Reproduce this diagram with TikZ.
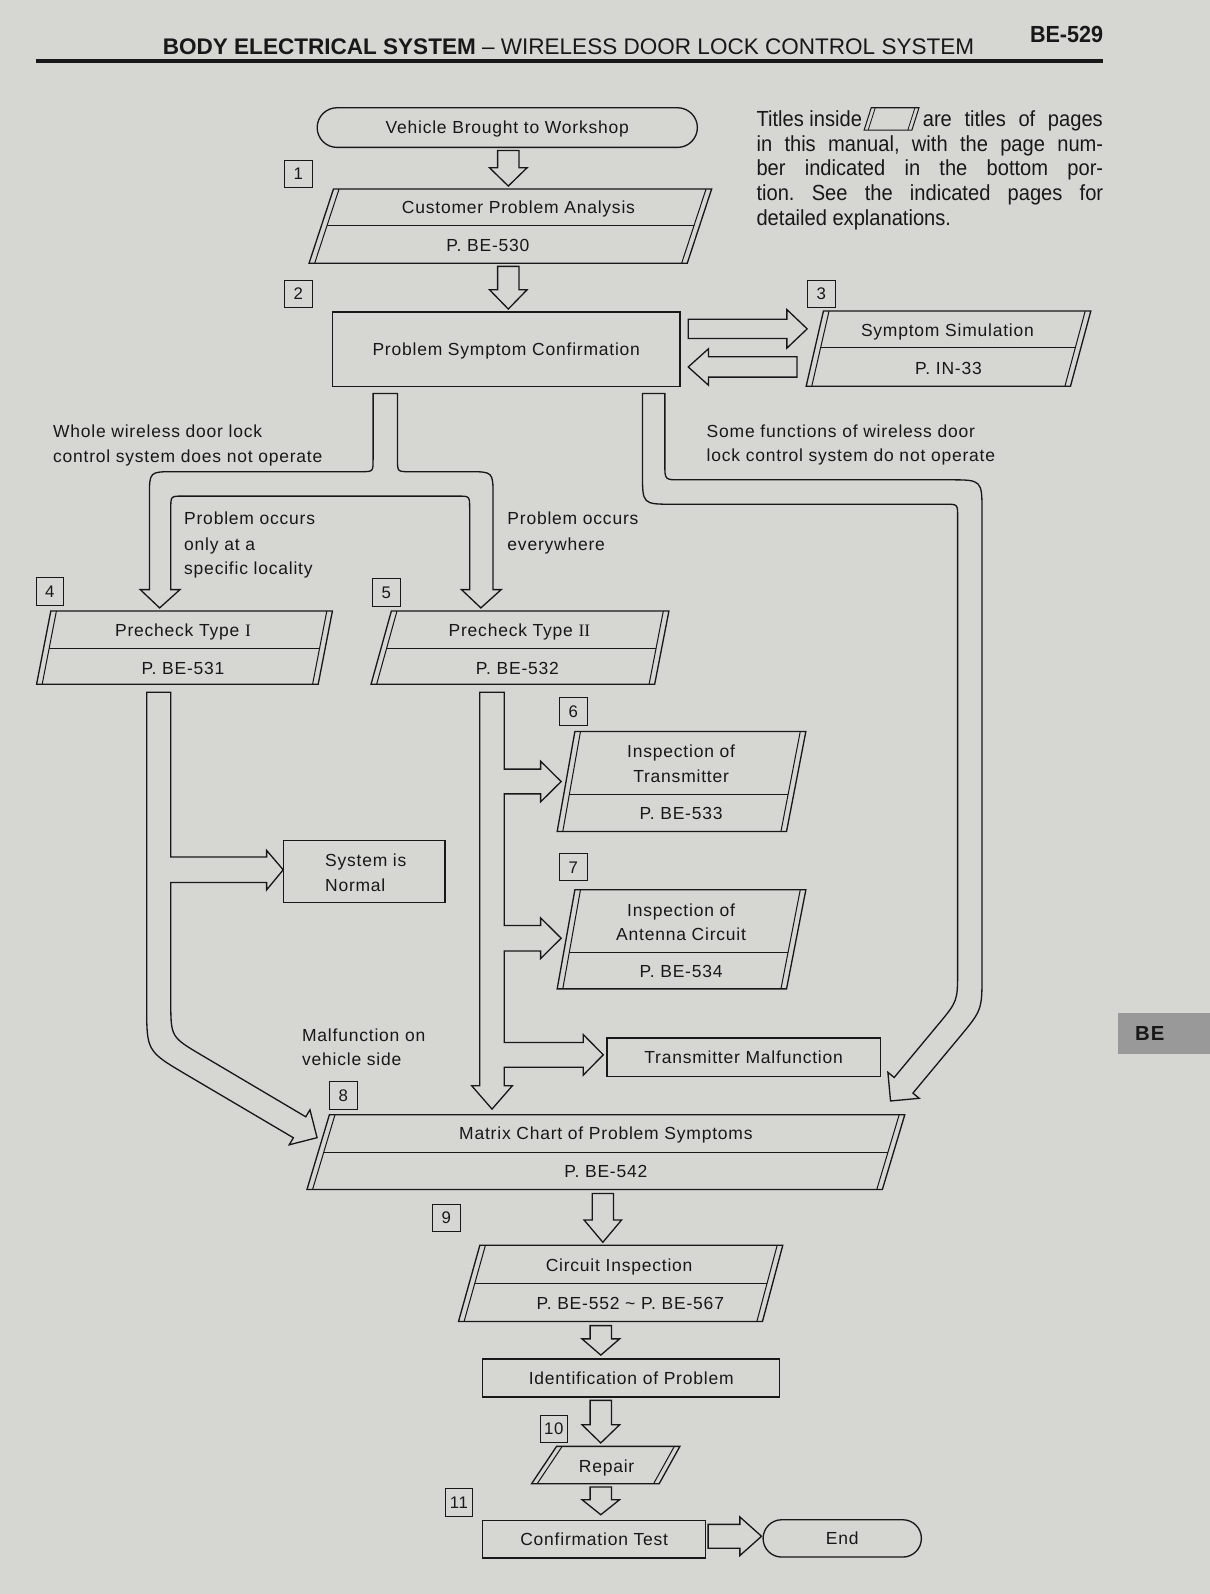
\documentclass[tikz,border=0pt]{standalone}
\usepackage{graphicx}
\usepackage{fontspec}
\setmainfont{Liberation Sans}
\newfontfamily\fc{Liberation Sans}[LetterSpace=4.5]
\newfontfamily\pf{Liberation Sans}[FakeStretch=0.92]
\newfontfamily\serifI{Liberation Serif}
\usetikzlibrary{calc}
\definecolor{paper}{RGB}{214,214,211}
\definecolor{ink}{RGB}{24,24,24}
\frenchspacing
\newcommand\pgram[7]{%
  \draw[shp] (#1,#5) -- (#2,#5) -- (#4,#6) -- (#3,#6) -- cycle;
  \draw[inl] ({#1+5.5},#5) -- ({#3+5.5},#6);
  \draw[inl] ({#2-5.5},#5) -- ({#4-5.5},#6);
  \draw[inl] ({#1+5.5+((#3)-(#1))*((#7)-(#5))/((#6)-(#5))},#7) -- ({#2-5.5+((#4)-(#2))*((#7)-(#5))/((#6)-(#5))},#7);}
\newcommand\pgramnd[6]{%
  \draw[shp] (#1,#5) -- (#2,#5) -- (#4,#6) -- (#3,#6) -- cycle;
  \draw[inl] ({#1+5.5},#5) -- ({#3+5.5},#6);
  \draw[inl] ({#2-5.5},#5) -- ({#4-5.5},#6);}
\newcommand\hdown[4]{%
  \draw[shp] ({#1-10.5},#2) -- ({#1+10.5},#2) -- ({#1+10.5},#3) -- ({#1+18.5},#3) -- (#1,#4) -- ({#1-18.5},#3) -- ({#1-10.5},#3) -- cycle;}
\begin{document}
\begin{tikzpicture}[x=1pt,y=-1pt,
  shp/.style={draw=ink,line width=1.3pt,line join=miter},
  inl/.style={draw=ink,line width=1pt},
  t/.style={inner sep=0pt,text height=12.3pt,text depth=0pt,text=ink,font=\fc\fontsize{17.2}{20}\selectfont},
  lab/.style={t,anchor=west},
  rbox/.style={t,draw=ink,line width=1.3pt},
  num/.style={draw=ink,line width=1pt,minimum width=27pt,minimum height=27pt,inner sep=0pt,text height=11.8pt,text depth=0pt,text=ink,font=\fc\fontsize{16.5}{16}\selectfont},
  para/.style={inner sep=0pt,text=ink,font=\pf\fontsize{21.5}{24}\selectfont}]
\fill[paper] (0,0) rectangle (1190,1568);
\useasboundingbox (0,0) rectangle (1190,1568);

% header
\node[anchor=base west,inner sep=0pt,text=ink] (hdr) at (160,53.5) {\resizebox{798pt}{15.5pt}{\textbf{BODY ELECTRICAL SYSTEM} -- WIRELESS DOOR LOCK CONTROL SYSTEM}};
\node[anchor=base west,inner sep=0pt,text=ink] (pgno) at (1013,42) {\resizebox{72pt}{16pt}{\textbf{BE-529}}};
\draw[ink,line width=3pt] (35,60) -- (1085,60);

% explanation paragraph
\node[para,anchor=base west] (p1a) at (744,124.5) {Titles inside};
\draw[shp,line width=1pt] (857,106) -- (904,106) -- (897,128) -- (850,128) -- cycle;
\draw[inl,line width=0.8pt] (861,106) -- (854,128);
\draw[inl,line width=0.8pt] (900,106) -- (893,128);
\node[para,anchor=base east] (p1b) at (1085,124.5) {\makebox[177pt][s]{are titles of pages}};
\node[para,anchor=base west] (p2) at (744,149) {\makebox[341pt][s]{in this manual, with the page num-}};
\node[para,anchor=base west] (p3) at (744,173) {\makebox[341pt][s]{ber indicated in the bottom por-}};
\node[para,anchor=base west] (p4) at (744,197.5) {\makebox[341pt][s]{tion. See the indicated pages for}};
\node[para,anchor=base west] (p5) at (744,222) {detailed explanations.};

% start
\node[t,draw=ink,line width=1.3pt,rounded corners=19.5pt,minimum width=374pt,minimum height=39pt] (start) at (499,125.5) {Vehicle Brought to Workshop};
\hdown{500}{148}{165}{183}
\node[num] (n1) at (293.5,171) {1};

% customer problem analysis
\pgram{328}{700}{304}{676}{186}{259}{222}
\node[t] (cpa) at (510,204) {Customer Problem Analysis};
\node[t] (cpap) at (480,241) {P. BE-530};
\hdown{500}{262}{285}{304}
\node[num] (n2) at (293.5,289) {2};

% problem symptom confirmation
\node[rbox,minimum width=342pt,minimum height=73pt] (psc) at (498,343.5) {Problem Symptom Confirmation};
\draw[shp] (677,314) -- (774,314) -- (774,304.5) -- (794,323.5) -- (774,342.5) -- (774,333) -- (677,333) -- cycle;
\draw[shp] (784,351) -- (697,351) -- (697,343) -- (677,361) -- (697,379) -- (697,371) -- (784,371) -- cycle;
\node[num] (n3) at (808,289) {3};
\pgram{810}{1073}{793}{1053}{306}{380}{342}
\node[t] (ss) at (932,325) {Symptom Simulation};
\node[t] (ssp) at (933,362) {P. IN-33};

% labels
\node[lab] (w1) at (52,424) {Whole wireless door lock};
\node[lab] (w2) at (52,449) {control system does not operate};
\node[lab] (s1) at (695,424) {Some functions of wireless door};
\node[lab] (s2) at (695,448) {lock control system do not operate};
\node[lab] (q1) at (181,510) {Problem occurs};
\node[lab] (q2) at (181,535) {only at a};
\node[lab] (q3) at (181,559) {specific locality};
\node[lab] (e1) at (499,510) {Problem occurs};
\node[lab] (e2) at (499,535) {everywhere};
\node[lab] (m1) at (297,1018) {Malfunction on};
\node[lab] (m2) at (297,1042) {vehicle side};

% split arrow (whole system)
\draw[shp] (367,387) -- (391,387) -- (391,452) .. controls (391,464) .. (403,464) -- (461,464) .. controls (485,464) .. (485,488) -- (485,580) -- (493,580) -- (473,598) -- (454,580) -- (462,580) -- (462,500) .. controls (462,488) .. (450,488) -- (180,488) .. controls (168,488) .. (168,500) -- (168,580) -- (177,580) -- (157,598) -- (138,580) -- (147,580) -- (147,488) .. controls (147,464) .. (171,464) -- (355,464) .. controls (367,464) .. (367,452) -- cycle;

% long right arrow (some functions)
\draw[shp] (632,387) -- (654,387) -- (654,457) .. controls (654,472) .. (669,472) -- (934,472) .. controls (966,472) .. (966,504) -- (966,958.5) .. controls (966,993.5) .. (943.6,1020.5) -- (898,1075.3) -- (904.2,1080.4) -- (876,1083) -- (873.4,1054.8) -- (879.6,1059.9) -- (922.8,1007.9) .. controls (942,984.8) .. (942,954.8) -- (942,508) .. controls (942,496) .. (930,496) -- (662,496) .. controls (632,496) .. (632,466) -- cycle;

% precheck boxes
\node[num] (n4) at (49,582) {4};
\node[num] (n5) at (380,583) {5};
\pgram{50}{327}{36}{313}{601}{673}{638}
\node[t] (pc1) at (180,620) {Precheck Type {\serifI I}};
\node[t] (pc1p) at (180,657) {P. BE-531};
\pgram{385}{658}{365}{644}{601}{673}{638}
\node[t] (pc2) at (511,620) {Precheck Type {\serifI II}};
\node[t] (pc2p) at (509,657) {P. BE-532};

% left column arrow
\draw[shp] (144.3,681) -- (168,681) -- (168,843) -- (262.3,843) -- (262.3,836.6) -- (278.6,855.6) -- (262.3,875.3) -- (262.3,868.1) -- (168,868.1) -- (168,985) .. controls (168,1020) .. (198.1,1037.8) -- (300.8,1098.6) -- (304.9,1091.7) -- (311.9,1119.1) -- (284.5,1126.1) -- (288.6,1119.2) -- (183.0,1056.9) .. controls (144.3,1034) .. (144.3,989) -- cycle;
\node[rbox,minimum width=159pt,minimum height=61pt] (normal) at (358.1,857.3) {};
\node[lab] (nt1) at (319.6,846.5) {System is};
\node[lab] (nt2) at (319.6,870.9) {Normal};

% right column arrow
\draw[shp] (472,681) -- (496,681) -- (496,756.6) -- (531.8,756.6) -- (531.8,748.8) -- (552,768.8) -- (531.8,788.8) -- (531.8,780.9) -- (496,780.9) -- (496,910.4) -- (531.8,910.4) -- (531.8,902.9) -- (552,922.9) -- (531.8,942.9) -- (531.8,935.4) -- (496,935.4) -- (496,1025.5) -- (573.7,1025.5) -- (573.7,1017.6) -- (593.4,1037.6) -- (573.7,1057.6) -- (573.7,1049.8) -- (496,1049.8) -- (496,1068) -- (504,1068) -- (484,1091) -- (464,1068) -- (472,1068) -- cycle;

\node[num] (n6) at (564,700) {6};
\pgram{565.5}{792.7}{548.1}{773.7}{719.6}{817.9}{781.2}
\node[t] (it1) at (670,739.3) {Inspection of};
\node[t] (it2) at (670,763.8) {Transmitter};
\node[t] (itp) at (670,800) {P. BE-533};
\node[num] (n7) at (564,853) {7};
\pgram{565.5}{792.7}{548.1}{773.7}{875.3}{972.7}{936.6}
\node[t] (ia1) at (670,895) {Inspection of};
\node[t] (ia2) at (670,919.4) {Antenna Circuit};
\node[t] (iap) at (670,955.5) {P. BE-534};
\node[rbox,minimum width=269pt,minimum height=38pt] (tm) at (731.5,1040) {Transmitter Malfunction};

% matrix chart
\node[num] (n8) at (337.7,1077.7) {8};
\pgram{324}{890}{302}{868}{1096.6}{1170}{1134}
\node[t] (mc) at (596,1115) {Matrix Chart of Problem Symptoms};
\node[t] (mcp) at (596,1152) {P. BE-542};
\hdown{593}{1174}{1200}{1222}
\node[num] (n9) at (439,1198) {9};

% circuit inspection
\pgram{472}{770}{451}{750}{1225}{1300}{1263}
\node[t] (ci) at (609,1245) {Circuit Inspection};
\node[t] (cip) at (620,1282) {P. BE-552 \textasciitilde{} P. BE-567};
\hdown{591}{1304}{1317}{1333}
\node[rbox,minimum width=292.3pt,minimum height=37.3pt] (idp) at (620.9,1355.6) {Identification of Problem};
\hdown{591}{1377.5}{1401.5}{1419.4}
\node[num] (n10) at (544.7,1405.5) {10};
\pgramnd{547.5}{668.8}{522.9}{648.4}{1422.8}{1459.5}
\node[t] (rep) at (596.7,1442.4) {Repair};
\hdown{591}{1462.7}{1475.2}{1490}
\node[num] (n11) at (451.5,1477.9) {11};
\node[rbox,minimum width=219.6pt,minimum height=36.9pt] (ct) at (584.5,1514) {Confirmation Test};
\draw[shp] (696.6,1499.5) -- (727.8,1499.5) -- (727.8,1492.2) -- (749.1,1511.2) -- (727.8,1530.2) -- (727.8,1522.9) -- (696.6,1522.9) -- cycle;
\node[t,draw=ink,line width=1.3pt,rounded corners=18.3pt,minimum width=155.7pt,minimum height=36.7pt] (end) at (828.5,1513.3) {End};

% side tab
\fill[black!40] (1100,996) rectangle (1190,1037);
\node[inner sep=0pt,text=ink,font=\fc\bfseries\fontsize{20}{20}\selectfont] (tab) at (1131,1016.5) {BE};
\end{tikzpicture}
\end{document}
